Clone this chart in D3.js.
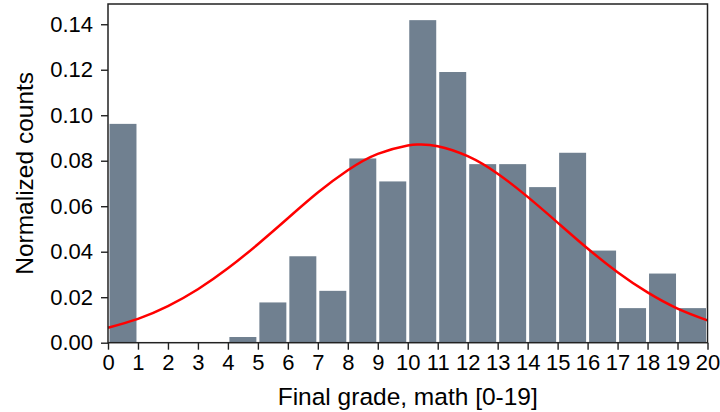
<!DOCTYPE html>
<html>
<head>
<meta charset="utf-8">
<script src="https://cdn.jsdelivr.net/npm/d3@7"></script>
<style>
  html, body { margin: 0; padding: 0; background: #fff; }
  svg { display: block; }
  text { font-family: "Liberation Sans", Arial, sans-serif; fill: #000; }
</style>
</head>
<body>
<svg id="chart" width="720" height="412"></svg>
<script>
// Histogram of final math grades (share of students per one-point bin)
const binStarts = [0, 1, 2, 3, 4, 5, 6, 7, 8, 9, 10, 11, 12, 13, 14, 15, 16, 17, 18, 19];
const shares = [0.0962, 0, 0, 0, 0.0025, 0.0177, 0.0380, 0.0228, 0.0810, 0.0709,
                0.1418, 0.1190, 0.0785, 0.0785, 0.0684, 0.0835, 0.0405, 0.0152, 0.0304, 0.0152];

// Fitted normal density, sampled along the grade axis
const curveX = [0, 1, 2, 3, 4, 5, 6, 7, 8, 9, 10, 10.4, 11, 12, 13, 14, 15, 16, 17, 18, 19, 20];
const curveY = [0.0066, 0.0105, 0.0161, 0.0235, 0.0327, 0.0433, 0.0547, 0.0660, 0.0758, 0.0830,
                0.0867, 0.0871, 0.0864, 0.0820, 0.0743, 0.0641, 0.0528, 0.0414, 0.0310, 0.0221,
                0.0150, 0.0098];

const xTicks = d3.range(0, 21);
const yTicks = [0, 0.02, 0.04, 0.06, 0.08, 0.10, 0.12, 0.14];

const svg = d3.select("#chart");
const plotLeft = 108, plotRight = 707.5, plotTop = 4, plotBottom = 342.7;

const x = d3.scaleLinear().domain([0, 20]).range([plotLeft, plotRight]);
const y = d3.scaleLinear().domain([0, 0.1489]).range([plotBottom, plotTop]);

const barFrac = 0.9;

// bars
svg.append("g")
  .selectAll("rect")
  .data(binStarts.map((b, i) => ({ b, v: shares[i] })))
  .join("rect")
  .attr("x", d => x(d.b + (1 - barFrac) / 2))
  .attr("width", d => x(d.b + 1 - (1 - barFrac) / 2) - x(d.b + (1 - barFrac) / 2))
  .attr("y", d => y(d.v))
  .attr("height", d => y(0) - y(d.v))
  .attr("fill", "#708090");

// density curve
const pts = curveX.map((cx, i) => [cx, curveY[i]]);
svg.append("path")
  .datum(pts)
  .attr("fill", "none")
  .attr("stroke", "#ff0000")
  .attr("stroke-width", 2.5)
  .attr("d", d3.line().x(d => x(d[0])).y(d => y(d[1])).curve(d3.curveNatural));

// axes
const xAxis = d3.axisBottom(x).tickValues(xTicks).tickFormat(d3.format("d"))
  .tickSize(7).tickPadding(5);
const yAxis = d3.axisLeft(y).tickValues(yTicks).tickFormat(d3.format(".2f"))
  .tickSize(7).tickPadding(8);

const gx = svg.append("g").attr("transform", `translate(0,${plotBottom})`).call(xAxis);
const gy = svg.append("g").attr("transform", `translate(${plotLeft},0)`).call(yAxis);

[gx, gy].forEach(g => {
  g.select(".domain").remove();
  g.selectAll(".tick line").attr("stroke", "#222").attr("stroke-width", 1.4);
  g.selectAll(".tick text").attr("font-size", 22).attr("fill", "#000")
    .style("font-family", "'Liberation Sans', Arial, sans-serif");
});

// frame
svg.append("rect")
  .attr("x", plotLeft).attr("y", plotTop)
  .attr("width", plotRight - plotLeft).attr("height", plotBottom - plotTop)
  .attr("fill", "none").attr("stroke", "#222").attr("stroke-width", 1.5);

// axis titles
svg.append("text")
  .attr("x", (plotLeft + plotRight) / 2).attr("y", 405)
  .attr("text-anchor", "middle").attr("font-size", 24.5)
  .text("Final grade, math [0-19]");

svg.append("text")
  .attr("transform", `translate(33,${(plotTop + plotBottom) / 2}) rotate(-90)`)
  .attr("text-anchor", "middle").attr("font-size", 24.5)
  .text("Normalized counts");
</script>
</body>
</html>
